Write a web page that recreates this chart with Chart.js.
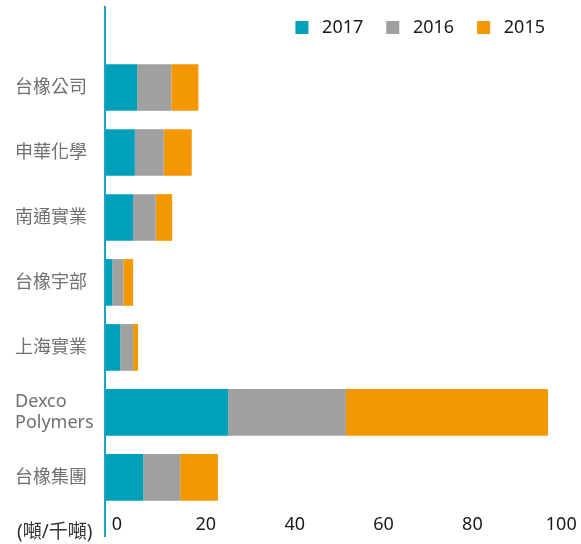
<!DOCTYPE html>
<html>
<head>
<meta charset="utf-8">
<script src="https://cdn.jsdelivr.net/npm/chart.js@4.4.1/dist/chart.umd.min.js"></script>
<style>
	html, body { margin: 0; padding: 0; background: #fff; }
	#wrap { width: 581px; height: 544px; position: relative; }
</style>
</head>
<body>
<div id="wrap"><canvas id="volumeChart"></canvas></div>
<script>
// categories, top to bottom
const companies = ['台橡公司', '申華化學', '南通實業', '台橡宇部', '上海實業', ['Dexco', 'Polymers'], '台橡集團'];
const seriesNames = ['2017', '2016', '2015'];
const values2017 = [7.0, 6.5, 6.1, 1.4, 3.2, 27.5, 8.4];
const values2016 = [7.7, 6.5, 5.1, 2.5, 2.9, 26.5, 8.3];
const values2015 = [6.1, 6.3, 3.7, 2.2, 1.1, 45.5, 8.5];
const xTicks = [0, 20, 40, 60, 80, 100];
const unitLabel = '(噸/千噸)';

const seriesColors = ['#009fba', '#9fa0a0', '#f39800'];
const fontFamily = "'Noto Sans', 'Noto Sans CJK TC', sans-serif";

// long teal axis line on the left + unit label under it
const axisDecor = {
	id: 'axisDecor',
	afterDatasetsDraw(chart) {
		const ctx = chart.ctx;
		const area = chart.chartArea;
		ctx.save();
		ctx.strokeStyle = '#1aa6bf';
		ctx.lineWidth = 2;
		ctx.beginPath();
		ctx.moveTo(area.left - 1, area.top - 49);
		ctx.lineTo(area.left - 1, area.bottom + 27);
		ctx.stroke();

		ctx.fillStyle = '#333';
		ctx.font = "19px " + fontFamily;
		ctx.textAlign = 'left';
		ctx.textBaseline = 'middle';
		ctx.fillText(unitLabel, chart.scales.y.left + 2, chart.scales.x.top + 23);
		ctx.restore();
	}
};

const volumeChart = new Chart(document.getElementById('volumeChart'), {
	type: 'bar',
	data: {
		labels: companies,
		datasets: [
			{ label: seriesNames[0], data: values2017, backgroundColor: seriesColors[0] },
			{ label: seriesNames[1], data: values2016, backgroundColor: seriesColors[1] },
			{ label: seriesNames[2], data: values2015, backgroundColor: seriesColors[2] },
		]
	},
	options: {
		indexAxis: 'y',
		responsive: true,
		maintainAspectRatio: false,
		animation: false,
		barPercentage: 0.718,
		categoryPercentage: 1,
		layout: { padding: { left: 15, right: 13, top: -4.5, bottom: 4.5 } },
		plugins: {
			tooltip: { enabled: false },
			legend: {
				position: 'top',
				align: 'end',
				labels: {
					boxWidth: 13,
					boxHeight: 13,
					padding: 23,
					color: '#1a1a1a',
					font: { family: fontFamily, size: 18 },
					generateLabels: (chart) => Chart.defaults.plugins.legend.labels.generateLabels(chart)
						.map(item => ({ ...item, text: ' ' + item.text, lineWidth: 0 }))
				}
			},
			// empty title only used as a gap between legend and bars
			title: { display: true, text: '', weight: 500, padding: 0, font: { size: 1, lineHeight: '8.5px' } }
		},
		scales: {
			x: {
				stacked: true,
				min: 0,
				max: 104,
				grid: { display: false, drawTicks: false },
				border: { display: false },
				afterBuildTicks: (scale) => { scale.ticks = xTicks.map(v => ({ value: v })); },
				ticks: {
					labelOffset: 11,
					padding: 4,
					color: '#1a1a1a',
					font: { family: fontFamily, size: 18 }
				}
			},
			y: {
				stacked: true,
				grid: { display: false, drawTicks: false },
				border: { display: false },
				afterFit: (scale) => { scale.width = 91; },
				ticks: {
					crossAlign: 'far',
					color: '#707070',
					font: { family: fontFamily, size: 18, lineHeight: 1.2 }
				}
			}
		}
	},
	plugins: [axisDecor]
});
</script>
</body>
</html>
